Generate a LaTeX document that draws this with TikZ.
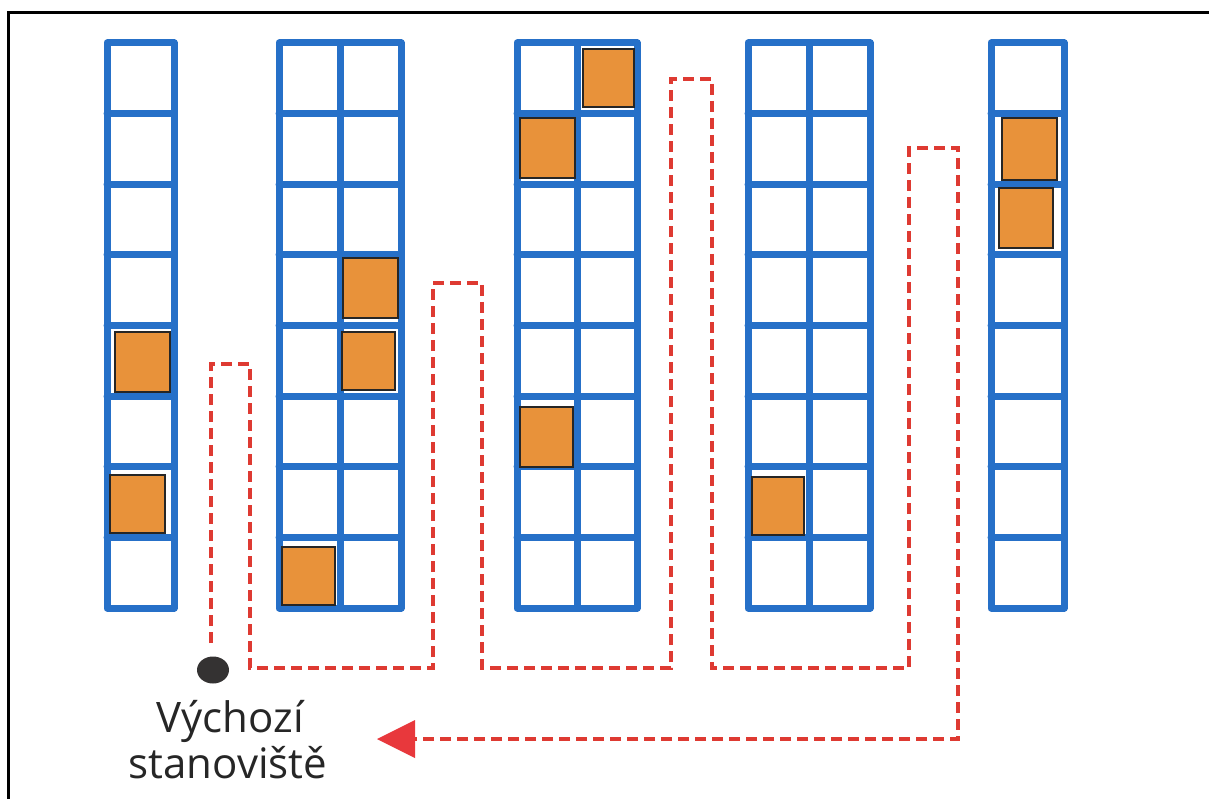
\documentclass[tikz,border=0pt]{standalone}
\usepackage{fontspec}
\setmainfont{Open Sans}
\usetikzlibrary{shapes.geometric}
\definecolor{rackblue}{RGB}{38,112,200}
\definecolor{crateorange}{RGB}{232,146,58}
\definecolor{pathred}{RGB}{222,58,50}
\definecolor{tipred}{RGB}{232,56,60}
\definecolor{dotgray}{RGB}{52,50,50}
\tikzset{
  rackline/.style={draw=rackblue, line width=7pt, line cap=round, line join=round},
  crate/.style={draw=black!85, line width=2.4pt, fill=crateorange},
  walkpath/.style={draw=pathred, line width=3.2pt, dash pattern=on 11pt off 6pt},
  caption/.style={font=\fontsize{42}{46}\selectfont, text=black!85, inner sep=0pt, anchor=base},
}
% one shelving rack: left x, number of columns, cell width (8 levels)
\newcommand\drawrack[3]{%
  \foreach \k in {1,...,7}
    \draw[rackline] (#1,{43+\k*70.625}) -- ++({#2*#3},0);
  \ifnum#2=2 \draw[rackline] ({#1+#3},43) -- ++(0,565);\fi
  \draw[rackline] (#1,43) rectangle ++({#2*#3},565);
}
\begin{document}
\begin{tikzpicture}[x=1pt,y=-1pt]
\useasboundingbox (0,0) rectangle (1209,799);
\fill[white] (0,0) rectangle (1209,799);
% frame
\draw[line width=3pt] (8,799) -- (8,13) -- (1209,13);

% racks
\drawrack{107}{1}{67}
\drawrack{279}{2}{61}
\drawrack{517}{2}{60}
\drawrack{748}{2}{61}
\drawrack{991}{1}{73}

% stored crates
\draw[crate] (115,332) rectangle (170,392);
\draw[crate] (110,475) rectangle (165,533);
\draw[crate] (343,258) rectangle (398,318);
\draw[crate] (342,332) rectangle (395,390);
\draw[crate] (282,547) rectangle (335,605);
\draw[crate] (583,49) rectangle (634,107);
\draw[crate] (520,118) rectangle (575,178);
\draw[crate] (520,407) rectangle (573,467);
\draw[crate] (752,477) rectangle (804,535);
\draw[crate] (1002,118) rectangle (1057,180);
\draw[crate] (999,188) rectangle (1053,248);

% starting point
\node[ellipse, fill=dotgray, minimum width=32pt, minimum height=27pt, inner sep=0pt] (start) at (213,670) {};
\node[caption] (startA) at (230,732) {Výchozí};
\node[caption] (startB) at (228,778) {stanoviště};

% picking route
\coordinate (p0) at (211,643);
\coordinate (tip) at (377,739);
\draw[walkpath] (p0) -- (211,364) -- (250,364) -- (250,668) -- (433,668) -- (433,283)
  -- (482,283) -- (482,668) -- (671,668) -- (671,79) -- (712,79) -- (712,668)
  -- (909,668) -- (909,148) -- (958,148) -- (958,739) -- (414,739);
\fill[tipred] (tip) -- (415,720) -- (415,758) -- cycle;
\end{tikzpicture}
\end{document}
